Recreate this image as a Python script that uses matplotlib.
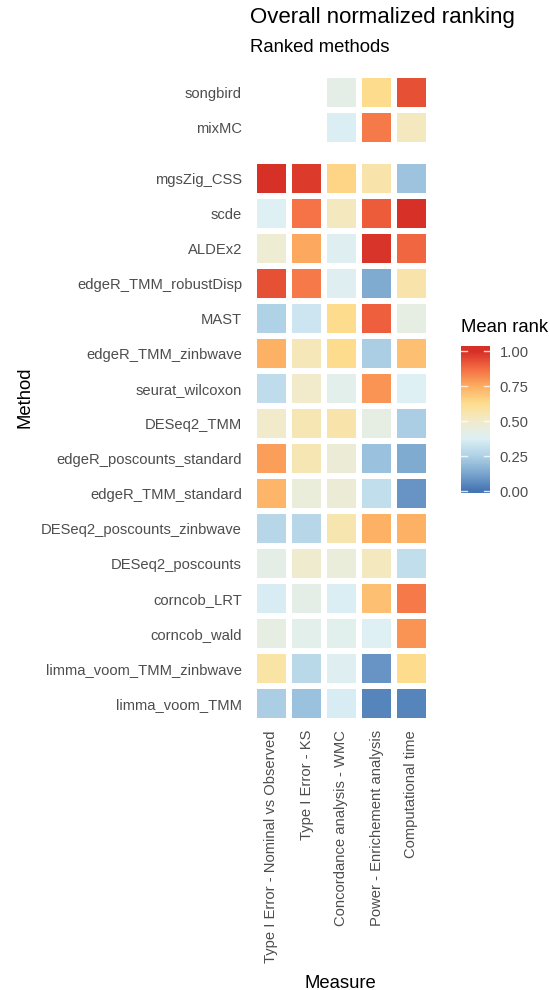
import numpy as np
import matplotlib
matplotlib.use("Agg")
import matplotlib.pyplot as plt
from matplotlib.colors import LinearSegmentedColormap

plt.rcParams['font.family'] = ['Liberation Sans', 'DejaVu Sans']

# measures (x) and methods (y, top to bottom)
measures = ['Type I Error - Nominal vs Observed', 'Type I Error - KS',
            'Concordance analysis - WMC', 'Power - Enrichement analysis',
            'Computational time']

top_methods = ['songbird', 'mixMC']
top_values = [
    [np.nan, np.nan, 0.42, 0.63, 0.93],
    [np.nan, np.nan, 0.37, 0.85, 0.53],
]

main_methods = ['mgsZig_CSS', 'scde', 'ALDEx2', 'edgeR_TMM_robustDisp', 'MAST',
                'edgeR_TMM_zinbwave', 'seurat_wilcoxon', 'DESeq2_TMM',
                'edgeR_poscounts_standard', 'edgeR_TMM_standard',
                'DESeq2_poscounts_zinbwave', 'DESeq2_poscounts', 'corncob_LRT',
                'corncob_wald', 'limma_voom_TMM_zinbwave', 'limma_voom_TMM']
main_values = [
    [1.00, 0.98, 0.65, 0.57, 0.21],
    [0.38, 0.86, 0.53, 0.91, 1.00],
    [0.48, 0.76, 0.39, 0.99, 0.89],
    [0.93, 0.85, 0.39, 0.14, 0.57],
    [0.25, 0.33, 0.63, 0.90, 0.43],
    [0.74, 0.54, 0.63, 0.24, 0.70],
    [0.29, 0.50, 0.41, 0.80, 0.38],
    [0.50, 0.55, 0.57, 0.43, 0.24],
    [0.78, 0.55, 0.47, 0.20, 0.14],
    [0.73, 0.46, 0.47, 0.30, 0.08],
    [0.27, 0.27, 0.56, 0.74, 0.74],
    [0.42, 0.49, 0.46, 0.53, 0.30],
    [0.36, 0.42, 0.37, 0.70, 0.85],
    [0.43, 0.41, 0.40, 0.38, 0.80],
    [0.58, 0.28, 0.39, 0.08, 0.63],
    [0.24, 0.20, 0.36, 0.04, 0.04],
]

# RdYlBu-like palette with a duller middle (as in the reference)
cmap = LinearSegmentedColormap.from_list('rdylbu', [
    '#4575B4', '#7BA7CF', '#AFD2E6', '#DDF0F5', '#F1EBCC',
    '#FEDE90', '#FDAE61', '#F46D43', '#D73027'])

txt = '#4D4D4D'
fig = plt.figure(figsize=(5.5, 9.9), dpi=100)

W, H = 550, 990
def box(x0, y0, x1, y1):
    return [x0 / W, 1 - y1 / H, (x1 - x0) / W, (y1 - y0) / H]

ax_top = fig.add_axes(box(254, 75, 429, 145))
ax_main = fig.add_axes(box(254, 161, 429, 721))

for ax, names, vals in [(ax_top, top_methods, top_values), (ax_main, main_methods, main_values)]:
    data = np.ma.masked_invalid(np.array(vals))
    ax.pcolormesh(np.arange(len(measures) + 1), np.arange(len(names) + 1), data,
                  cmap=cmap, vmin=0, vmax=1, edgecolor='white', linewidth=4.3)
    ax.set_xlim(0, len(measures))
    ax.set_ylim(len(names), 0)
    ax.set_yticks(np.arange(len(names)) + 0.5)
    ax.set_yticklabels(names, fontsize=10.65, color=txt)
    ax.tick_params(length=0, pad=8.6)
    for s in ax.spines.values():
        s.set_visible(False)

ax_top.set_xticks([])
ax_main.set_xticks(np.arange(len(measures)) + 0.5)
ax_main.set_xticklabels(measures, rotation=90, fontsize=10.65, color=txt)
ax_main.tick_params(axis='x', pad=6.5)

fig.text(340 / W, 1 - 983 / H, 'Measure', fontsize=13.3, ha='center', va='center')
fig.text(25 / W, 1 - 397 / H, 'Method', fontsize=13.3, ha='center', va='center', rotation=90)

fig.text(250 / W, 1 - 18 / H, 'Overall normalized ranking', fontsize=16, ha='left', va='center')
fig.text(250 / W, 1 - 47 / H, 'Ranked methods', fontsize=13.3, ha='left', va='center')

# colour bar legend
cax = fig.add_axes(box(461, 346, 490, 493))
grad = np.linspace(-0.014, 1.036, 300).reshape(-1, 1)
cax.imshow(grad, cmap=cmap, vmin=0, vmax=1, aspect='auto', origin='lower',
           extent=[0, 1, -0.014, 1.036])
cax.set_xlim(0, 1)
cax.set_ylim(-0.014, 1.036)
ticks = [0, 0.25, 0.5, 0.75, 1.0]
for t in ticks:
    cax.plot([0, 0.2], [t, t], color='white', lw=1, alpha=0.8)
    cax.plot([0.8, 1], [t, t], color='white', lw=1, alpha=0.8)
cax.set_xticks([])
cax.yaxis.tick_right()
cax.set_yticks(ticks)
cax.set_yticklabels(['%.2f' % t for t in ticks], fontsize=10.65, color=txt)
cax.tick_params(length=0, pad=7)
for s in cax.spines.values():
    s.set_visible(False)
fig.text(461 / W, 1 - 328 / H, 'Mean rank', fontsize=13.3, ha='left', va='center')

fig.savefig('out.png', dpi=100)
